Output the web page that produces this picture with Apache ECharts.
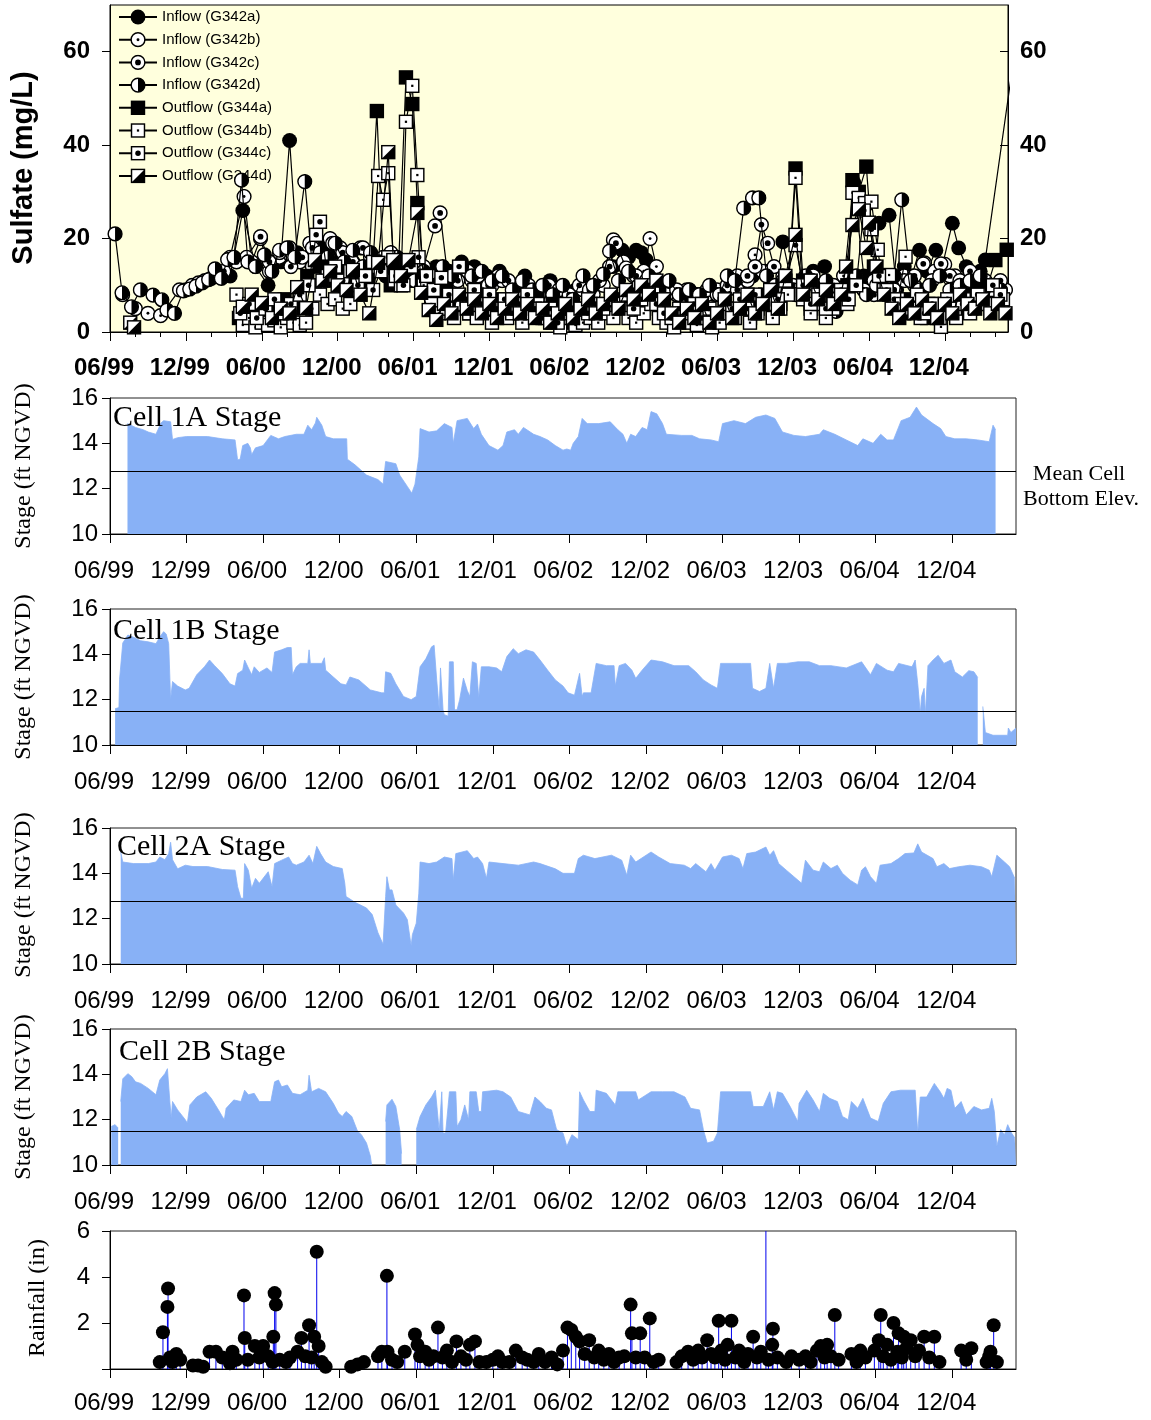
<!DOCTYPE html>
<html><head><meta charset="utf-8">
<script src="https://cdn.jsdelivr.net/npm/echarts@6/dist/echarts.min.js"></script>
<style>html,body{margin:0;padding:0;background:#fff}#c{width:1151px;height:1420px}</style>
</head><body><div id="c"></div><script>
// x values are months since 1 June 1999
const monthLabels = ['06/99','12/99','06/00','12/00','06/01','12/01','06/02','12/02','06/03','12/03','06/04','12/04'];
const monthTicks = [0,6,12,18,24,30,36,42,48,54,60,66];
const sulfateTicks = [0,20,40,60];
const stageTicks = [10,12,14,16];
const rainTicks = [2,4,6];
const meanBottom = [12.75, 11.5, 12.75, 11.5];

const inflowA = [[9.5,12],[10.5,26],[11.5,14],[12.5,10],[13.5,15],[14.2,41],[14.8,17],[15.8,15],[16.8,18],[17.8,17],[18.8,16],[19.8,13],[20.8,15],[21.8,12],[22.8,14],[23.8,11],[24.8,12],[25.8,14],[26.8,13],[27.8,15],[28.8,14],[29.8,12],[30.8,13],[31.8,10],[32.8,12],[33.8,9],[34.8,11],[35.8,8],[36.8,9],[37.8,10],[38.8,11],[39.8,14],[40.5,17.5],[41.0,16],[41.6,17.5],[42.0,17],[42.4,15.4],[42.8,11.8],[43.8,10],[44.8,8],[45.8,9],[46.8,7],[47.8,8],[48.8,9],[49.8,10],[50.8,12],[51.8,13],[52.6,10],[53.2,19.3],[54.0,9],[54.8,11],[55.6,13],[56.5,14],[57.2,5],[58.0,10],[58.8,32],[59.6,12],[60.4,10],[60.8,23.3],[61.6,25],[62.2,9],[62.8,14],[63.4,12],[64.0,17.5],[64.6,13],[65.3,17.5],[65.8,14],[66.6,23.3],[67.1,18],[67.7,14],[68.3,11],[68.8,13],[69.2,15.4],[72,69]];
const inflowB = [[1.0,8],[2.0,5],[3.0,4],[4.0,3.5],[5.5,9],[6.5,10],[7.5,11],[8.5,13],[9.5,16],[10.6,29],[11.2,15],[11.9,20],[12.6,13],[13.4,16],[14.2,18],[15.0,15],[15.8,19],[16.6,17],[17.4,20],[18.2,18],[19.0,16],[19.8,18],[20.6,16],[21.4,14],[22.2,17],[23.0,13],[23.8,12],[24.6,10],[25.4,12],[26.2,11],[27.0,10],[27.8,13],[28.6,11],[29.4,12],[30.2,10],[31.0,11],[31.8,8],[32.6,10],[33.4,9],[34.2,7],[35.0,9],[35.8,8],[36.6,6],[37.4,9],[38.2,8],[39.0,10],[39.8,19.7],[40.6,15],[41.4,12],[42.2,13],[42.7,20],[43.2,14],[44.0,10],[44.8,8],[45.6,9],[46.4,7],[47.2,8],[48.0,9],[48.8,10],[49.6,12],[50.4,11],[51.0,16.5],[51.6,13],[52.4,10],[53.2,12],[54.0,10],[54.8,9],[55.6,11],[56.4,10],[57.2,9],[58.0,12],[58.8,10],[59.6,9],[60.4,11],[61.2,10],[62.0,9],[62.8,12],[63.6,10],[64.4,14.8],[65.2,13],[66.0,14.5],[66.8,12],[67.6,11],[68.4,12],[69.2,11],[70.0,10],[70.8,9]];
const inflowC = [[6,9],[7,10.5],[8,11.5],[9,13],[10,15],[10.8,16],[11.9,20.4],[12.6,15],[13.4,17],[14.3,14],[15.2,16],[16.0,18],[16.8,15],[17.6,19],[18.4,17],[19.2,15],[20.0,18],[20.8,14],[21.6,16],[22.4,13],[23.2,15],[24.0,12],[24.8,14],[25.7,22.7],[26.1,25.5],[26.7,12],[27.5,11],[28.3,13],[29.1,12],[29.9,10],[30.7,12],[31.5,11],[32.3,9],[33.1,10],[33.9,8],[34.7,10],[35.5,9],[36.3,8],[37.1,10],[37.9,9],[38.7,11],[39.5,14],[40.0,19],[40.8,13.7],[41.6,12],[42.4,11],[43.2,9],[44.0,8],[44.8,9],[45.6,7],[46.4,8],[47.2,9],[48.0,8],[48.8,10],[49.6,9],[50.4,12],[51.0,14],[51.5,23],[52.0,19],[52.5,14],[53.2,11],[54.0,9],[54.8,10],[55.6,12],[56.4,9],[57.2,10],[58.0,8],[58.8,11],[59.6,9],[60.4,8],[61.2,10],[62.0,9],[62.8,11],[63.6,12],[64.3,14.6],[65.0,11],[65.7,14.6],[66.4,12],[67.2,11],[68.0,13],[68.8,10],[69.6,9],[70.4,11]];
const inflowD = [[0.4,21],[0.95,8.4],[1.7,5.4],[2.4,9],[3.4,7.9],[4.1,6.9],[4.5,4.7],[5.1,4],[5.8,8.8],[6.3,9.2],[6.8,9.8],[7.3,10.5],[7.8,11.2],[8.3,13.5],[8.8,11.5],[9.3,15.5],[9.8,16],[10.4,32.5],[10.9,15],[11.5,14],[12.2,16.5],[12.8,13],[13.4,17.5],[14.0,18],[14.6,16],[15.4,32.2],[16.0,14],[16.6,17],[17.2,16],[17.8,19],[18.5,15],[19.2,17.5],[20.0,14],[20.6,17],[21.3,15],[22.0,13],[22.7,16],[23.4,12],[24.1,11],[24.8,13],[25.5,10],[26.3,14],[27.0,12],[27.8,14],[28.6,12],[29.4,13],[30.2,11],[31.0,12],[31.8,9],[32.6,11],[33.4,9],[34.2,10],[35.0,8],[35.8,10],[36.6,7],[37.4,12],[38.2,10],[39.0,12.4],[39.5,17.3],[40.2,11],[41.0,13],[41.8,10],[42.6,12],[43.4,9],[44.2,11],[45.0,8],[45.8,9],[46.6,8],[47.4,10],[48.2,8],[48.8,12],[49.4,11],[50.1,26.5],[50.8,28.7],[51.3,28.7],[51.9,12],[52.6,10],[53.4,9],[54.2,8],[55.0,12],[55.8,10],[56.6,11],[57.4,4.4],[58.2,10],[59.0,12],[59.8,8],[60.6,10],[61.4,9],[62.0,12],[62.6,28.3],[63.3,11],[64.0,9],[64.8,10],[65.6,12],[66.4,9],[67.2,10],[68.0,11],[68.8,12],[69.6,10],[70.4,9]];
const outflowA = [[10.2,3],[10.8,5],[11.4,2],[12.0,4],[12.6,6],[13.2,3],[13.8,7],[14.4,5],[15.0,9],[15.6,12],[16.2,10],[16.8,14],[17.4,11],[18.0,13],[18.6,9],[19.2,12],[19.8,8],[20.4,11],[21.1,47.3],[21.6,14],[22.2,10],[22.8,13],[23.4,54.5],[23.9,48.8],[24.3,27.6],[24.8,12],[25.4,8],[26.0,6],[26.6,9],[27.2,5],[27.8,7],[28.4,4],[29.0,8],[29.6,6],[30.2,5],[30.8,7],[31.4,4],[32.0,6],[32.6,3],[33.2,5],[33.8,7],[34.4,4],[35.0,6],[35.6,3],[36.2,2],[36.8,4],[37.4,3],[38.0,6],[38.6,4],[39.2,5],[39.8,7],[40.4,5],[41.0,8],[41.6,6],[42.2,9],[42.8,7],[43.4,5],[44.0,3],[44.6,2],[45.2,4],[45.8,3],[46.4,5],[47.0,2],[47.6,4],[48.2,3],[48.8,5],[49.4,4],[50.0,6],[50.6,3],[51.2,5],[51.8,8],[52.4,4],[53.0,6],[53.6,9],[54.2,35],[54.8,11],[55.4,5],[56.0,7],[56.6,9],[57.2,6],[57.8,8],[58.3,10],[58.7,32.5],[59.2,30],[59.8,35.4],[60.4,14],[61.0,12],[61.6,8],[62.2,6],[62.8,4],[63.4,7],[64.0,5],[64.6,3],[65.2,6],[65.8,4],[66.4,7],[67.0,5],[67.6,8],[68.2,6],[68.8,9],[69.4,10],[70.0,15.4],[70.9,17.6],[72,20]];
const outflowB = [[10.0,8],[10.5,1.5],[11.0,3],[11.5,1],[12.0,2],[12.5,1.5],[13.0,2.5],[13.5,1],[14.0,3],[14.5,2],[15.0,1.5],[15.5,2],[16.0,5],[16.6,8],[17.2,6],[17.8,7],[18.4,5],[19.0,6],[19.6,9],[20.2,12],[20.8,15],[21.2,33.4],[21.6,28.3],[22.0,34],[22.5,11],[23.0,10],[23.4,45],[23.9,52.7],[24.3,33.6],[24.8,10],[25.4,6],[26.0,4],[26.6,5],[27.2,3],[27.8,6],[28.4,4],[29.0,3],[29.6,5],[30.2,2],[30.8,4],[31.4,3],[32.0,5],[32.6,2],[33.2,4],[33.8,6],[34.4,3],[35.0,2],[35.6,1],[36.2,3],[36.8,1.5],[37.4,2],[38.0,3],[38.6,2],[39.2,4],[39.8,3],[40.4,5],[41.0,3],[41.6,2],[42.2,4],[42.8,6],[43.4,3],[44.0,2],[44.6,1],[45.2,3],[45.8,2],[46.4,1.5],[47.0,3],[47.6,1],[48.2,2],[48.8,4],[49.4,3],[50.0,5],[50.6,2],[51.2,4],[51.8,6],[52.4,3],[53.0,5],[53.6,8],[54.2,33],[54.8,7],[55.4,4],[56.0,6],[56.6,3],[57.2,5],[57.8,8],[58.3,6],[58.7,29.8],[59.2,28.7],[59.7,27.6],[60.2,27.9],[60.7,17.6],[61.2,9],[61.6,12.2],[62.3,7],[62.9,16.1],[63.5,5],[64.1,3],[64.7,6],[65.2,4],[65.7,1.1],[66.3,5],[66.9,3],[67.5,7],[68.1,5],[68.7,8],[69.3,6],[70.0,9],[70.6,7]];
const outflowC = [[10.3,4],[11.0,6],[11.6,3],[12.3,5],[13.0,7],[13.6,4],[14.3,6],[15.0,8],[15.7,10],[16.3,20.8],[16.6,23.6],[17.2,12],[17.8,14],[18.4,11],[19.0,13],[19.6,10],[20.2,12],[20.8,9],[21.4,13],[22.0,16],[22.6,12],[23.2,10],[23.8,14],[24.4,16],[25.0,12],[25.6,9],[26.2,11.6],[26.8,8],[27.6,14],[28.2,7],[28.8,9],[29.4,6],[30.0,8],[30.6,5],[31.2,7],[31.8,4],[32.4,6],[33.0,8],[33.6,5],[34.2,3],[34.8,5],[35.4,2],[36.0,4],[36.6,3],[37.2,5],[37.8,4],[38.4,6],[39.0,5],[39.6,7],[40.2,6],[40.8,8],[41.4,5],[42.0,7],[42.6,10],[43.2,6],[43.8,4],[44.4,3],[45.0,5],[45.6,4],[46.2,6],[46.8,3],[47.4,5],[48.0,4],[48.6,6],[49.2,5],[49.8,7],[50.4,5],[51.0,8],[51.6,6],[52.2,9],[52.8,7],[53.4,11],[54.2,18.6],[54.8,10],[55.4,6],[56.0,8],[56.6,5],[57.2,7],[57.8,9],[58.4,7],[59.0,10],[59.6,26],[60.2,22],[60.8,12],[61.4,9],[62.0,7],[62.6,6],[63.2,5],[63.8,8],[64.4,4],[65.0,6],[65.6,3],[66.2,7],[66.8,5],[67.4,6],[68.0,4],[68.6,8],[69.2,6],[69.8,10],[70.4,8]];
const outflowD = [[1.6,2],[1.9,1],[2.3,null],[10.5,5.4],[11.2,8],[12.0,6.2],[12.8,3],[13.5,5],[14.2,4],[14.8,9.6],[15.5,5.1],[16.2,15.4],[16.8,11],[17.4,13],[18.0,10],[18.7,9],[19.2,13.3],[19.8,8],[20.5,4],[21.2,14.8],[22.0,38.5],[22.4,15.4],[23.0,12],[23.6,15.4],[24.3,25.5],[24.6,8.4],[25.2,4.7],[25.8,2.6],[26.4,6],[27.0,4],[27.6,8],[28.2,5],[28.8,7],[29.4,4],[30.0,6],[30.6,3],[31.2,5],[31.8,7],[32.4,4],[33.0,6],[33.6,3],[34.2,5],[34.8,2],[35.4,4],[36.0,6],[36.6,3],[37.2,5],[37.8,7],[38.4,4],[39.0,6],[39.6,8],[40.2,5],[40.8,9],[41.4,7],[42.0,10],[42.6,8],[43.2,11],[43.8,7],[44.4,4],[45.0,2],[45.6,5],[46.2,3],[46.8,6],[47.4,2],[48.0,4],[48.6,7],[49.2,3],[49.8,5],[50.4,8],[51.0,4],[51.6,6],[52.2,9],[52.8,5],[53.4,12],[54.2,20.8],[54.8,8],[55.4,11],[56.0,7],[56.6,9],[57.2,6],[57.8,8],[58.2,14],[58.7,22.9],[59.2,26.3],[59.8,18],[60.0,23.4],[60.6,14],[61.2,8],[61.8,5],[62.4,3],[63.0,6],[63.6,4],[64.2,7],[64.8,5],[65.4,3],[66.0,6],[66.6,4],[67.2,8],[67.8,6],[68.4,5],[69.0,7],[69.6,4],[70.2,6],[70.8,4]];

const stage1A = [[1.37,14.87],[2.0,14.7],[2.6,14.6],[3.0,14.5],[3.6,14.4],[4.0,14.9],[4.2,15.0],[4.75,14.95],[4.85,14.9],[4.9,14.17],[5.3,14.25],[6.0,14.3],[7.65,14.3],[8.8,14.2],[9.8,14.15],[9.95,14.15],[10.0,13.27],[10.2,13.3],[10.4,13.9],[10.8,14.0],[11.0,13.8],[11.1,13.5],[11.4,13.8],[12.0,13.9],[12.6,14.35],[13.2,14.2],[13.7,14.3],[14.6,14.4],[15.2,14.4],[15.5,14.8],[15.8,14.6],[16.1,14.9],[16.2,15.15],[16.6,14.8],[16.9,14.3],[17.5,14.2],[18.55,14.2],[18.6,13.3],[19.2,13.05],[20.1,12.6],[21.0,12.4],[21.4,12.2],[21.55,12.2],[21.6,13.2],[22.4,13.1],[22.7,12.6],[23.3,12.1],[23.65,11.8],[23.9,12.2],[24.2,13.4],[24.3,14.65],[25.0,14.5],[25.6,14.55],[26.2,14.87],[26.8,14.7],[26.9,14.0],[27.2,15.0],[28.0,15.1],[28.5,14.65],[28.8,14.85],[29.1,14.4],[29.7,13.9],[30.4,13.7],[30.8,13.9],[31.1,14.5],[31.7,14.6],[32.0,14.4],[32.4,14.7],[33.2,14.4],[33.7,14.3],[34.3,14.15],[34.9,13.9],[35.5,13.7],[35.8,13.75],[36.1,13.7],[36.3,14.0],[36.7,14.3],[37.0,15.1],[37.4,14.87],[38.3,14.87],[39.2,14.95],[39.8,14.6],[40.2,14.4],[40.5,14.0],[40.8,14.4],[41.2,14.3],[41.7,14.7],[42.1,14.6],[42.4,15.4],[42.85,15.3],[43.3,14.87],[43.6,14.4],[44.8,14.35],[45.6,14.35],[46.2,14.2],[47.1,14.15],[47.7,14.07],[48.0,14.87],[48.9,15.0],[49.8,14.87],[50.6,15.15],[51.4,15.25],[52.1,15.1],[52.7,14.5],[53.6,14.35],[54.5,14.3],[55.6,14.4],[55.9,14.6],[56.8,14.4],[57.7,14.15],[58.6,13.9],[59.0,14.2],[59.8,14.0],[60.4,14.4],[60.9,14.15],[61.4,14.15],[62.0,15.0],[62.7,15.15],[63.2,15.6],[63.6,15.25],[64.5,14.87],[65.1,14.65],[65.5,14.3],[66.2,14.2],[67.1,14.2],[68.0,14.15],[68.9,14.07],[69.2,14.8],[69.4,14.6]];
const stage1B = [[0.4,11.6],[0.7,11.65],[0.75,12.9],[1.0,14.5],[1.4,14.85],[1.85,14.75],[2.4,14.6],[3.0,14.55],[3.6,14.47],[3.9,14.76],[4.2,15.0],[4.4,14.9],[4.6,14.47],[4.72,14.4],[4.75,12.0],[4.9,12.8],[5.3,12.6],[5.9,12.43],[6.2,12.5],[6.8,13.1],[7.4,13.45],[7.8,13.75],[8.2,13.5],[8.8,13.15],[9.4,12.7],[9.8,12.6],[10.0,13.15],[10.4,13.3],[10.55,13.75],[10.8,13.45],[11.1,13.1],[11.3,13.45],[11.7,13.2],[12.3,13.4],[12.7,13.2],[12.9,14.1],[13.45,14.2],[13.9,14.3],[14.2,14.3],[14.3,13.1],[14.6,13.45],[14.9,13.6],[15.5,13.6],[15.6,14.2],[15.7,13.6],[16.6,13.6],[16.8,13.85],[16.9,13.3],[17.5,13.0],[18.1,12.7],[18.5,12.65],[18.8,13.0],[19.5,12.87],[20.4,12.43],[21.3,12.3],[21.5,12.3],[21.6,13.23],[22.0,13.16],[22.4,12.7],[23.0,12.14],[23.6,12.0],[24.0,12.14],[24.3,13.45],[24.75,13.8],[25.2,14.33],[25.4,14.4],[25.6,12.9],[25.8,11.55],[25.9,13.4],[26.0,13.4],[26.1,11.55],[26.2,11.34],[26.5,11.27],[26.6,13.67],[26.9,13.67],[27.0,11.55],[27.2,11.55],[27.4,12.0],[27.7,12.95],[28.0,12.4],[28.2,12.14],[28.4,13.67],[28.7,13.6],[28.9,12.07],[29.1,13.45],[29.7,13.45],[30.3,13.4],[30.7,13.23],[31.1,13.9],[31.6,14.25],[32.0,14.03],[32.6,14.2],[33.2,14.1],[33.7,13.75],[34.3,13.3],[34.9,12.87],[35.5,12.6],[35.9,12.3],[36.4,12.2],[36.8,13.16],[37.0,12.14],[37.1,12.3],[37.7,12.3],[38.1,13.6],[38.9,13.5],[39.5,13.5],[39.6,12.6],[39.9,13.5],[40.4,13.6],[40.9,13.3],[41.2,12.94],[41.7,13.3],[42.4,13.75],[43.3,13.67],[44.2,13.5],[45.35,13.5],[45.9,13.23],[46.5,12.87],[47.1,12.65],[47.6,12.5],[47.85,13.6],[48.6,13.6],[49.5,13.6],[50.2,13.6],[50.35,12.5],[50.9,12.36],[51.4,12.5],[51.7,13.6],[52.0,12.5],[52.3,13.6],[53.0,13.6],[53.9,13.67],[54.8,13.67],[55.6,13.5],[56.5,13.5],[57.7,13.4],[58.9,13.67],[59.6,13.1],[60.06,13.6],[60.9,13.3],[61.4,13.23],[61.8,13.6],[62.85,13.45],[63.1,13.75],[63.3,12.7],[63.5,11.4],[63.6,12.14],[63.8,12.5],[63.9,11.34],[64.1,13.5],[64.5,13.75],[64.9,13.96],[65.35,13.6],[65.9,13.75],[66.2,13.23],[66.8,13.0],[67.3,13.28],[67.7,13.23],[68.0,12.98],[68.2,null],[68.4,11.7],[68.6,10.55],[69.2,10.43],[70.35,10.43],[70.4,10.75],[70.6,10.55],[71,10.75]];
const stage2A = [[0.84,14.94],[1.0,14.5],[1.85,14.43],[3.0,14.43],[3.6,14.5],[3.9,14.72],[4.3,14.6],[4.6,14.87],[4.75,15.37],[4.9,14.6],[5.3,14.2],[5.9,14.36],[6.5,14.3],[7.65,14.3],[8.8,14.17],[9.8,14.14],[10.0,13.41],[10.26,12.9],[10.45,12.9],[10.55,14.43],[10.84,14.14],[11.1,13.34],[11.4,13.78],[11.7,13.56],[12.0,13.78],[12.4,14.07],[12.7,13.41],[12.9,14.43],[13.45,14.58],[14.0,14.72],[14.3,14.43],[14.6,14.36],[15.2,14.5],[15.6,14.8],[15.9,14.43],[16.2,15.19],[16.5,14.87],[16.9,14.5],[17.5,14.3],[18.2,14.21],[18.4,13.56],[18.5,12.98],[19.2,12.72],[20.1,12.47],[20.55,12.18],[21.0,11.38],[21.4,10.87],[21.55,10.9],[21.6,12.98],[21.7,13.85],[21.9,13.27],[22.1,13.27],[22.4,12.6],[23.0,12.25],[23.3,11.96],[23.6,10.8],[23.7,11.3],[24.0,11.8],[24.2,13.12],[24.3,14.5],[25.0,14.43],[25.6,14.5],[26.2,14.72],[26.8,14.65],[26.9,13.7],[27.1,14.87],[28.0,15.0],[28.5,14.65],[28.8,14.72],[29.2,14.43],[29.5,13.78],[29.7,14.5],[30.8,14.43],[32.0,14.36],[33.2,14.5],[33.7,14.43],[34.9,14.2],[35.5,14.0],[36.4,14.0],[36.7,14.65],[37.1,14.8],[38.0,14.65],[39.3,14.8],[40.1,14.58],[40.5,13.92],[40.8,14.8],[41.2,14.5],[42.4,14.94],[43.0,14.72],[43.9,14.43],[45.0,14.36],[45.5,14.21],[45.9,14.43],[46.7,14.07],[47.1,14.43],[47.4,14.14],[48.0,14.72],[48.7,14.8],[49.3,14.65],[49.6,14.21],[49.9,14.87],[50.6,14.94],[51.4,15.16],[51.7,14.8],[52.0,15.0],[52.4,14.43],[53.0,14.14],[53.6,13.85],[54.2,13.56],[54.5,14.58],[55.1,14.14],[55.6,14.07],[55.9,14.5],[56.5,14.21],[57.0,14.36],[57.4,14.0],[58.0,13.7],[58.6,13.49],[58.9,14.14],[59.2,14.29],[59.6,13.85],[60.06,13.56],[60.35,14.36],[61.2,14.43],[61.8,14.65],[62.3,14.87],[63.0,14.9],[63.3,15.3],[63.6,14.94],[64.5,14.65],[64.8,14.29],[65.35,14.43],[65.8,14.21],[66.5,14.29],[67.4,14.36],[68.3,14.29],[68.9,14.14],[69.1,13.85],[69.5,14.8],[70.1,14.5],[70.5,14.29],[70.9,13.78],[71,13.7]];
const stage2B = [[0.1,11.7],[0.4,11.78],[0.64,11.63],[0.7,null],[0.84,12.8],[1.0,13.8],[1.4,14.03],[1.7,13.9],[2.0,13.67],[2.4,13.6],[3.0,13.38],[3.6,13.1],[3.9,13.75],[4.3,14.03],[4.5,14.25],[4.7,12.72],[4.8,12.07],[4.9,12.8],[5.3,12.43],[5.9,12.0],[6.06,11.85],[6.26,12.65],[6.8,13.0],[7.5,13.23],[7.94,12.94],[8.5,12.43],[8.8,12.14],[8.96,12.0],[9.1,12.5],[9.7,12.87],[10.26,12.8],[10.55,13.3],[10.84,13.1],[11.3,13.16],[11.7,12.8],[12.6,12.8],[12.9,13.67],[13.2,13.75],[13.45,13.45],[13.9,13.53],[14.3,13.16],[14.9,13.1],[15.5,13.3],[15.6,13.96],[15.8,13.23],[16.35,13.38],[16.9,13.23],[17.5,12.72],[17.9,12.29],[18.2,12.14],[18.5,12.36],[18.95,12.14],[19.4,11.49],[19.7,11.34],[19.8,11.4],[20.1,10.97],[20.4,10.4],[20.5,10],[21.0,null],[21.6,11.92],[21.7,12.65],[22.1,12.9],[22.4,12.58],[22.7,11.56],[22.85,10.5],[23.4,null],[24.0,11.56],[24.3,12.14],[24.75,12.65],[25.2,13.0],[25.5,13.3],[25.6,13.23],[25.8,11.49],[26.0,13.23],[26.1,11.41],[26.3,11.41],[26.6,13.23],[27.1,13.23],[27.2,11.7],[27.5,12.0],[27.8,12.65],[28.1,12.0],[28.2,13.23],[28.7,13.23],[28.9,12.36],[29.1,12.36],[29.2,13.23],[30.3,13.3],[30.8,13.23],[31.4,13.0],[32.0,12.36],[32.9,12.21],[33.3,13.0],[33.7,12.8],[34.2,12.5],[34.6,12.43],[35.0,11.56],[35.5,11.41],[35.8,10.83],[36.2,11.34],[36.7,11.12],[36.8,13.23],[37.1,12.87],[37.6,12.36],[38.0,12.36],[38.1,13.3],[38.9,13.16],[39.6,12.65],[39.8,13.23],[40.6,13.23],[41.2,13.23],[41.4,12.87],[42.4,13.23],[43.3,13.23],[44.2,13.23],[45.06,13.0],[45.5,12.5],[46.2,12.43],[46.5,11.56],[46.8,10.97],[47.3,11.05],[47.6,11.41],[47.85,13.23],[48.9,13.23],[50.2,13.23],[50.4,12.58],[51.2,12.58],[51.7,13.23],[52.0,12.43],[52.3,13.23],[52.7,13.16],[53.3,12.58],[53.9,11.92],[54.0,12.72],[54.6,13.3],[55.1,12.87],[55.6,12.36],[55.9,13.16],[56.4,12.94],[57.0,12.8],[57.4,12.14],[57.85,12.0],[58.1,12.8],[58.6,12.5],[59.0,12.94],[59.6,12.07],[60.2,11.92],[60.6,12.72],[61.2,13.23],[61.95,13.3],[62.7,13.3],[63.1,13.3],[63.3,11.41],[63.5,13.0],[64.0,13.0],[64.6,13.6],[65.06,13.23],[65.35,12.94],[65.6,13.38],[65.9,13.3],[66.2,12.5],[66.7,12.8],[67.1,12.21],[67.7,12.58],[68.3,12.43],[68.9,12.5],[69.1,12.94],[69.3,12.36],[69.5,10.83],[69.8,11.56],[70.1,11.34],[70.35,11.78],[70.65,11.41],[70.9,11.2],[71,11.2]];

const rainfall = [[3.9,0.3],[4.15,1.6],[4.5,2.7],[4.55,3.5],[4.7,0.5],[4.9,0.3],[5.2,0.65],[5.5,0.4],[6.5,0.15],[6.9,0.15],[7.3,0.1],[7.8,0.75],[8.3,0.75],[8.8,0.5],[9.4,0.25],[9.6,0.75],[9.9,0.4],[10.5,3.2],[10.56,1.35],[10.8,0.4],[11.35,1.0],[11.7,0.5],[12.0,1.0],[12.4,0.55],[12.75,0.3],[12.8,1.4],[12.9,3.3],[13.0,2.8],[13.3,0.4],[13.8,0.3],[14.1,0.5],[14.7,0.75],[15.0,1.35],[15.3,0.55],[15.6,1.9],[15.8,0.5],[16.0,1.4],[16.2,5.1],[16.35,1.0],[16.6,0.3],[16.9,0.1],[18.9,0.1],[19.4,0.2],[19.9,0.3],[21.0,0.55],[21.3,0.75],[21.7,4.05],[21.75,0.75],[22.1,0.4],[22.5,0.3],[23.1,0.75],[23.9,1.5],[24.1,1.05],[24.3,0.55],[24.7,0.75],[25.0,0.4],[25.35,0.55],[25.7,1.8],[26.05,0.5],[26.4,0.8],[26.8,0.3],[27.15,1.2],[27.5,0.55],[27.9,0.4],[28.2,1.05],[28.6,1.2],[28.95,0.3],[29.5,0.3],[30.0,0.4],[30.4,0.55],[30.75,0.3],[31.3,0.3],[31.8,0.8],[32.3,0.5],[32.7,0.4],[33.2,0.3],[33.6,0.65],[34.1,0.3],[34.6,0.5],[35.05,0.2],[35.5,0.8],[35.85,1.8],[36.15,1.7],[36.5,1.4],[36.8,1.2],[37.2,0.65],[37.55,1.25],[37.95,0.5],[38.3,0.8],[38.7,0.4],[39.1,0.65],[39.5,0.3],[39.9,0.5],[40.3,0.55],[40.8,2.8],[40.9,1.55],[41.2,0.5],[41.55,1.55],[41.9,0.5],[42.3,2.2],[42.6,0.3],[43.0,0.4],[44.4,0.3],[44.8,0.55],[45.3,0.75],[45.7,0.4],[46.1,0.8],[46.4,0.5],[46.8,1.25],[47.1,0.65],[47.4,0.5],[47.7,2.1],[47.9,0.8],[48.2,0.4],[48.4,1.05],[48.7,2.1],[49.0,0.5],[49.3,0.8],[49.7,0.3],[50.0,0.65],[50.4,1.4],[50.7,0.5],[51.0,0.75],[51.4,6.3],[51.6,0.4],[51.9,1.05],[51.95,1.75],[52.3,0.5],[53.0,0.3],[53.4,0.55],[54.0,0.4],[54.5,0.55],[54.9,0.3],[55.4,0.8],[55.7,1.0],[56.0,0.5],[56.2,1.05],[56.5,0.55],[56.8,2.35],[57.1,0.4],[58.1,0.65],[58.5,0.3],[58.8,0.8],[59.2,0.5],[59.9,0.8],[60.25,1.25],[60.4,2.35],[60.6,0.55],[60.9,1.05],[61.2,0.4],[61.4,2.0],[61.7,0.75],[61.8,1.55],[62.05,0.5],[62.2,1.4],[62.4,0.9],[62.75,1.25],[63.1,0.55],[63.4,0.8],[63.8,1.4],[64.2,0.5],[64.6,1.4],[65.0,0.3],[66.7,0.8],[67.1,0.4],[67.5,0.9],[68.7,0.3],[68.9,0.55],[69.0,0.75],[69.25,1.9],[69.5,0.3]];

function svgSym(inner){
  return 'image://data:image/svg+xml;charset=utf-8,' + encodeURIComponent('<svg xmlns="http://www.w3.org/2000/svg" width="40" height="40" viewBox="0 0 20 20">' + inner + '</svg>');
}
const ring = '<circle cx="10" cy="10" r="8.6" fill="#fff" stroke="#000" stroke-width="1.8"/>';
const box = '<rect x="1.9" y="1.9" width="16.2" height="16.2" fill="#fff" stroke="#000" stroke-width="1.8"/>';
const symbols = [
  svgSym('<circle cx="10" cy="10" r="9.3" fill="#000"/>'),
  svgSym(ring + '<circle cx="10" cy="10" r="1.8" fill="#000"/>'),
  svgSym(ring + '<circle cx="10" cy="10" r="3.6" fill="#000"/>'),
  svgSym(ring + '<path d="M10 1.4 A8.6 8.6 0 0 1 10 18.6 Z" fill="#000"/>'),
  svgSym('<rect x="1" y="1" width="18" height="18" fill="#000"/>'),
  svgSym(box + '<rect x="8.6" y="8.6" width="2.8" height="2.8" fill="#000"/>'),
  svgSym(box + '<circle cx="10" cy="10" r="3.4" fill="#000"/>'),
  svgSym(box + '<path d="M18.1 1.9 L18.1 18.1 L1.9 18.1 Z" fill="#000"/>')
];
const sulfateNames = ['Inflow (G342a)','Inflow (G342b)','Inflow (G342c)','Inflow (G342d)','Outflow (G344a)','Outflow (G344b)','Outflow (G344c)','Outflow (G344d)'];
const sulfateData = [inflowA, inflowB, inflowC, inflowD, outflowA, outflowB, outflowC, outflowD];

const SANS = 'Liberation Sans', SERIF = 'Liberation Serif';
const stageTops = [398, 609, 828, 1029];
const stageData = [stage1A, stage1B, stage2A, stage2B];
const stageTitles = ['Cell 1A Stage','Cell 1B Stage','Cell 2A Stage','Cell 2B Stage'];
const titlePos = [[113,418],[113,631],[117,847],[119,1052]];
const BLUE = '#88B1F6';

const grids = [{left:110, top:5, width:898, height:327, show:true, backgroundColor:'#FFFFDD', borderColor:'#000', borderWidth:1}];
stageTops.forEach(t => grids.push({left:110, top:t, width:906, height:136, show:true, borderColor:'#222', borderWidth:1}));
grids.push({left:110, top:1231, width:906, height:138, show:true, borderColor:'#222', borderWidth:1});

function xAx(gi, bold, margin, minor){
  return {type:'value', gridIndex:gi, min:0, max:71, interval:6,
    axisLine:{show:true, onZero:false, lineStyle:{color:'#000', width:1}},
    axisTick:{show:true, inside:false, length:9, customValues:monthTicks, lineStyle:{color:'#000'}},
    minorTick:{show:minor, splitNumber:3, length:5, lineStyle:{color:'#000'}},
    splitLine:{show:false}, minorSplitLine:{show:false},
    axisLabel:{customValues:monthTicks, margin:margin, padding:[0,12,0,0],
      formatter: v => (Math.abs(v/6 - Math.round(v/6)) < 1e-6 && monthLabels[Math.round(v/6)]) || '',
      fontFamily:SANS, fontSize:24, fontWeight:bold?'bold':'normal', color:'#000'}};
}
function yAx(gi, min, max, interval, ticks, labels, opts){
  return Object.assign({type:'value', gridIndex:gi, min, max, interval,
    axisLine:{show:true, onZero:false, lineStyle:{color:'#000', width:1}},
    axisTick:{show:true, inside:false, length:8, customValues:ticks, lineStyle:{color:'#000'}},
    splitLine:{show:false},
    axisLabel:{customValues:labels, margin:12, fontFamily:SANS, fontSize:24, color:'#000',
      formatter: v => labels.indexOf(v) >= 0 ? String(v) : ''}}, opts || {});
}

const xAxes = [xAx(0, true, 24, true)];
for (let i = 1; i <= 4; i++) xAxes.push(xAx(i, false, 25, false));
xAxes.push(xAx(5, false, 22, false));

const yTopL = yAx(0, 0, 70, 20, sulfateTicks, sulfateTicks);
yTopL.axisLabel.fontWeight = 'bold'; yTopL.axisLabel.margin = 20;
const yTopR = yAx(0, 0, 70, 20, sulfateTicks, sulfateTicks, {position:'right'});
yTopR.axisLabel.fontWeight = 'bold'; yTopR.axisTick.inside = true;
const yAxes = [yTopL, yTopR];
for (let i = 1; i <= 4; i++) yAxes.push(yAx(i, 10, 16, 2, stageTicks, stageTicks));
const yRain = yAx(5, 0, 6, 2, [0,2,4,6], rainTicks); yRain.axisLabel.margin = 20;
yAxes.push(yRain);

const series = [];
sulfateData.forEach((d, i) => series.push({
  type:'line', name:sulfateNames[i], xAxisIndex:0, yAxisIndex:0, data:d,
  symbol:symbols[i], symbolSize:16, showSymbol:true, showAllSymbol:true, connectNulls:false,
  lineStyle:{color:'#000', width:1.2}, itemStyle:{color:'#000', opacity:1}, clip:true, z:3 + i
}));
stageData.forEach((d, i) => series.push({
  type:'line', xAxisIndex:i+1, yAxisIndex:i+2, data:d, symbol:'none', showSymbol:false,
  connectNulls:false, clip:true,
  lineStyle:{color:BLUE, width:0.8}, itemStyle:{color:BLUE},
  areaStyle:{color:BLUE, opacity:1, origin:'start'},
  markLine:{silent:true, symbol:'none', label:{show:false}, animation:false,
    lineStyle:{color:'#000', width:1.2, type:'solid'}, data:[{yAxis:meanBottom[i]}]}
}));
series.push({type:'bar', xAxisIndex:5, yAxisIndex:6, data:rainfall, barWidth:1, itemStyle:{color:'#0000EE', opacity:1}, clip:true, z:2});
series.push({type:'scatter', xAxisIndex:5, yAxisIndex:6, data:rainfall, symbol:'circle', symbolSize:14, itemStyle:{color:'#000', opacity:1}, clip:true, z:3});

function txt(text, x, y, font, align, rot){
  return {type:'text', x:x, y:y, rotation:rot||0, z:100,
    style:{text:text, font:font, fill:'#000', align:align||'center', verticalAlign:'middle', textAlign:align||'center', textVerticalAlign:'middle'}};
}
const graphics = [
  txt('Sulfate (mg/L)', 24, 168, 'bold 29px "' + SANS + '"', 'center', Math.PI/2),
  txt('Rainfall (in)', 38, 1298, '24px "' + SERIF + '"', 'center', Math.PI/2),
  txt('Mean Cell', 1079, 474, '22px "' + SERIF + '"', 'center'),
  txt('Bottom Elev.', 1081, 499, '22px "' + SERIF + '"', 'center')
];
[466, 677, 895, 1097].forEach(y => graphics.push(txt('Stage (ft NGVD)', 24, y, '24px "' + SERIF + '"', 'center', Math.PI/2)));
stageTitles.forEach((t, i) => graphics.push(txt(t, titlePos[i][0], titlePos[i][1], '30px "' + SERIF + '"', 'left')));

const chart = echarts.init(document.getElementById('c'), null, {renderer:'canvas'});
chart.setOption({
  animation:false, backgroundColor:'#fff',
  grid:grids, xAxis:xAxes, yAxis:yAxes, series:series,
  legend:{show:true, left:118, top:9, padding:0, orient:'vertical', itemWidth:38, itemHeight:20, itemGap:6.7,
    selectedMode:false, data:sulfateNames,
    textStyle:{fontFamily:SANS, fontSize:15, color:'#000'}},
  graphic:{elements:graphics}
});
</script></body></html>
